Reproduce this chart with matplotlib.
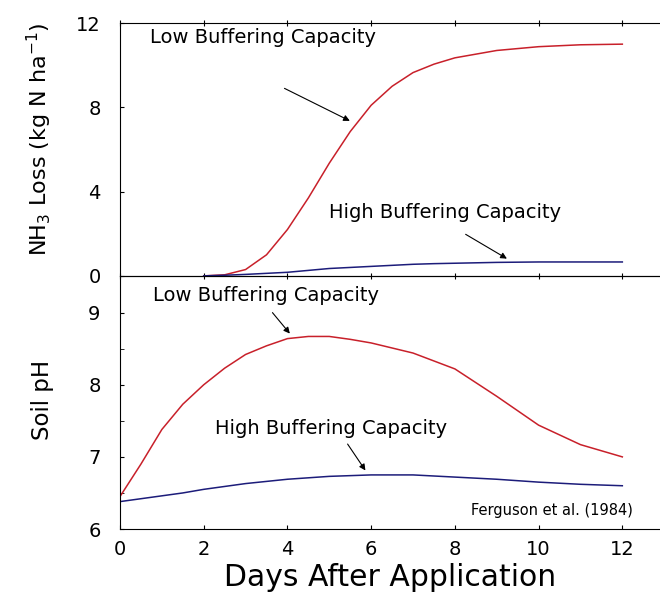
import numpy as np
import matplotlib.pyplot as plt

plt.rcParams['font.family'] = ['DejaVu Sans']

# NH3 loss data (kg N/ha)
days_loss = [2, 2.5, 3, 3.5, 4, 4.5, 5, 5.5, 6, 6.5, 7, 7.5, 8, 9, 10, 11, 12]
loss_low = [0.0, 0.05, 0.3, 1.0, 2.2, 3.7, 5.35, 6.85, 8.1, 9.0, 9.65, 10.05, 10.35, 10.7, 10.88, 10.97, 11.0]
loss_high = [0.0, 0.03, 0.07, 0.12, 0.17, 0.26, 0.35, 0.4, 0.45, 0.5, 0.55, 0.58, 0.6, 0.64, 0.66, 0.66, 0.66]

# soil pH data
days_ph = [0, 0.5, 1, 1.5, 2, 2.5, 3, 3.5, 4, 4.5, 5, 5.5, 6, 7, 8, 9, 10, 11, 12]
ph_low = [6.45, 6.9, 7.38, 7.73, 8.0, 8.23, 8.42, 8.54, 8.64, 8.67, 8.67, 8.63, 8.58, 8.44, 8.22, 7.84, 7.44, 7.17, 7.0]
ph_high = [6.38, 6.42, 6.46, 6.5, 6.55, 6.59, 6.63, 6.66, 6.69, 6.71, 6.73, 6.74, 6.75, 6.75, 6.72, 6.69, 6.65, 6.62, 6.6]

red = '#c8202a'
blue = '#1c1c7a'

fig = plt.figure(figsize=(6.6, 5.92), dpi=100)
ax1 = fig.add_axes([0.1818, 0.534, 0.8182, 0.427])
ax2 = fig.add_axes([0.1818, 0.1064, 0.8182, 0.4276])
ax2.patch.set_alpha(0)

xmax = 12.9
arrow = dict(arrowstyle='-|>', color='black', lw=0.8, mutation_scale=9)

# top panel
ax1.plot(days_loss, loss_low, color=red, lw=1.1)
ax1.plot(days_loss, loss_high, color=blue, lw=1.1)
ax1.set_xlim(0, xmax)
ax1.set_ylim(0, 12)
ax1.set_yticks([0, 4, 8, 12])
ax1.set_xticks([0, 2, 4, 6, 8, 10, 12])
ax1.tick_params(axis='x', direction='inout', length=5, labelbottom=False, top=True)
ax1.tick_params(axis='y', direction='in', length=3, labelsize=14, pad=14)
ax1.spines['right'].set_visible(False)
ax1.set_ylabel('NH$_3$ Loss (kg N ha$^{-1}$)', fontsize=16)
ax1.yaxis.set_label_coords(-0.122, 0.54)

ax1.text(0.72, 11.3, 'Low Buffering Capacity', fontsize=14, va='center')
ax1.annotate('', xy=(5.55, 7.3), xytext=(3.87, 8.96), arrowprops=arrow)
ax1.text(5.0, 3.03, 'High Buffering Capacity', fontsize=14, va='center')
ax1.annotate('', xy=(9.3, 0.75), xytext=(8.2, 2.04), arrowprops=arrow)

# bottom panel
ax2.plot(days_ph, ph_low, color=red, lw=1.1)
ax2.plot(days_ph, ph_high, color=blue, lw=1.1)
ax2.set_xlim(0, xmax)
ax2.set_ylim(6, 9.51)
ax2.set_yticks([6, 7, 8, 9])
ax2.set_yticks([6.5, 7.5, 8.5], minor=True)
ax2.set_xticks([0, 2, 4, 6, 8, 10, 12])
ax2.tick_params(axis='x', direction='in', length=3, labelsize=14, pad=8)
ax2.tick_params(axis='y', which='both', direction='in', length=3, labelsize=14, pad=14)
ax2.spines['right'].set_visible(False)
ax2.set_ylabel('Soil pH', fontsize=16.5)
ax2.yaxis.set_label_coords(-0.122, 0.51)
ax2.set_xlabel('Days After Application', fontsize=21.5, labelpad=3)

ax2.text(0.79, 9.24, 'Low Buffering Capacity', fontsize=14, va='center')
ax2.annotate('', xy=(4.1, 8.68), xytext=(3.6, 9.03), arrowprops=arrow)
ax2.text(2.27, 7.4, 'High Buffering Capacity', fontsize=14, va='center')
ax2.annotate('', xy=(5.9, 6.78), xytext=(5.4, 7.21), arrowprops=arrow)
ax2.text(12.25, 6.26, 'Ferguson et al. (1984)', fontsize=10.5, ha='right', va='center')

fig.savefig('out.png', dpi=100)
